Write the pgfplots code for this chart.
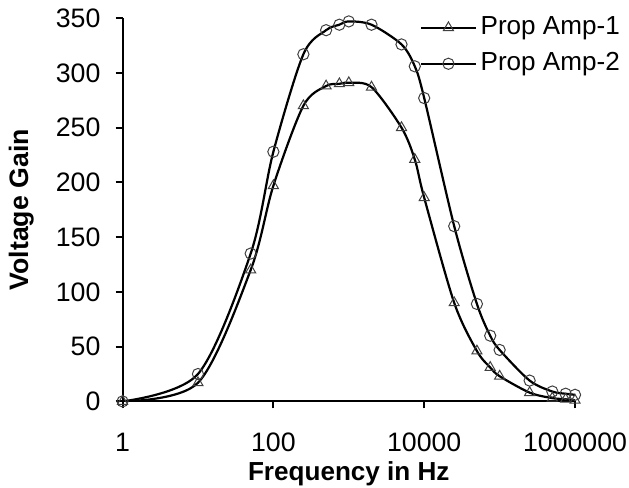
\documentclass[border=0pt]{standalone}
\usepackage{fontspec}
\setmainfont{Liberation Sans}
\usepackage{pgfplots}
\pgfplotsset{compat=1.18}

\begin{document}
\fontsize{13}{15}\selectfont
\begin{tikzpicture}
\begin{axis}[
  scale only axis, width=225.5pt, height=191pt,
  xmode=log, xmin=1, xmax=1000000, ymin=0, ymax=350,
  axis lines=left, axis line style={line width=1pt, -},
  xtick={1,100,10000,1000000}, xticklabels={1,100,10000,1000000},
  xminorticks=false,
  ytick={0,50,...,350},
  tick align=outside, major tick length=3.5pt,
  tick style={line width=1pt, black},
  /pgf/number format/assume math mode=true,
  ticklabel style={font=\fontsize{13.3}{15}\selectfont},
  xticklabel style={yshift=-11pt, inner sep=1pt},
  yticklabel style={xshift=-3pt},
  xlabel={\textbf{Frequency in Hz}},
  ylabel={\textbf{Voltage Gain}},
  every axis x label/.style={at={(axis description cs:0.5,-0.188)}, anchor=center,
    font=\fontsize{13}{15}\selectfont, inner sep=1pt},
  every axis y label/.style={at={(axis description cs:-0.224,0.5)}, anchor=center, rotate=90,
    font=\fontsize{13.3}{15}\selectfont},
  legend style={at={(axis description cs:0.657,1.015)}, anchor=north west,
    draw=none, fill=none, font=\fontsize{13}{15}\selectfont,
    row sep=3pt, inner sep=0pt},
  legend cell align=left,
  legend image code/.code={
    \draw[mark repeat=2, mark phase=2, #1] plot coordinates {(0pt,0pt) (13.5pt,0pt) (27pt,0pt)};},
]
\path (axis description cs:-0.2727,-0.22) rectangle (axis description cs:1.122,1.052);
\addplot[black, line width=1.1pt, smooth, mark=triangle, mark size=2.9pt,
  mark options={solid, fill=white, draw=black!75, line width=0.5pt}]
  coordinates {(1,0) (10,17) (50,120) (100,197) (250,270) (500,288) (750,290)
  (1000,291) (2000,287) (5000,250) (7500,221) (10000,186) (25000,90)
  (50000,46) (75000,31) (100000,23) (250000,8) (500000,3) (750000,2) (1000000,1)};
\addlegendentry{Prop Amp-1}
\addplot[black, line width=1.1pt, smooth, mark=o, mark size=2.8pt,
  mark options={solid, fill=white, draw=black!75, line width=0.5pt}]
  coordinates {(1,0) (10,25) (50,135) (100,228) (250,317) (500,339) (750,344)
  (1000,347) (2000,344) (5000,326) (7500,306) (10000,277) (25000,160)
  (50000,89) (75000,60) (100000,47) (250000,19) (500000,9) (750000,7) (1000000,6)};
\addlegendentry{Prop Amp-2}
\end{axis}
\end{tikzpicture}
\end{document}
